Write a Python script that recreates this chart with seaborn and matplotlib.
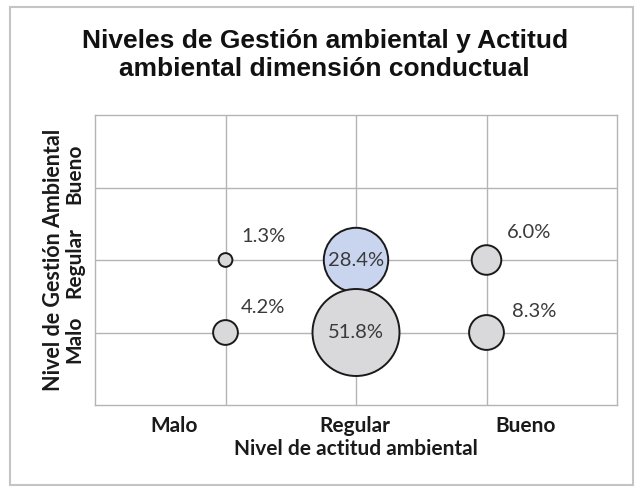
import matplotlib
matplotlib.use("Agg")
import matplotlib.pyplot as plt
import seaborn as sns
import pandas as pd
from matplotlib.patches import Rectangle

# ---- data ----
actitud = [1, 2, 3, 1, 2, 3]          # x: Nivel de actitud ambiental (1=Malo, 2=Regular, 3=Bueno)
gestion = [2, 2, 2, 1, 1, 1]          # y: Nivel de Gestión Ambiental
porcentaje = [1.3, 28.4, 6.0, 4.2, 51.8, 8.3]
etiquetas = ["1.3%", "28.4%", "6.0%", "4.2%", "51.8%", "8.3%"]
grupo = ["g", "b", "g", "g", "g", "g"]
x_tick_labels = ["Malo", "Regular", "Bueno"]
y_tick_labels = ["Malo", "Regular", "Bueno"]

df = pd.DataFrame({"x": actitud, "y": gestion, "pct": porcentaje,
                   "lab": etiquetas, "grupo": grupo})

# ---- layout constants ----
W, H = 638, 488
fig = plt.figure(figsize=(W / 100, H / 100), dpi=100)
sns.set_style("white")
ax = fig.add_axes([95 / W, 1 - 405 / H, (617 - 95) / W, (405 - 115) / H])

k = 75.7  # area per percent (pt^2)
sns.scatterplot(data=df, x="x", y="y", size="pct",
                sizes=(min(porcentaje) * k, max(porcentaje) * k),
                hue="grupo", palette={"g": "#d9d9dc", "b": "#c9d5ef"},
                edgecolor="#1a1a1a", linewidth=1.4, alpha=1,
                legend=False, ax=ax, zorder=3)

ax.set_xlim(0, 4)
ax.set_ylim(0, 4)
ax.set_xticks([1, 2, 3], minor=True)
ax.set_yticks([1, 2, 3], minor=True)
ax.grid(True, which="minor", color="#b4b4b4", linewidth=1.0, zorder=0)
ax.grid(False, which="major")
for s in ax.spines.values():
    s.set_color("#b4b4b4")
    s.set_linewidth(1.0)
ax.tick_params(which="both", length=0)

lab_font = dict(fontfamily="Lato", fontweight="bold", fontsize=15, color="#1a1a1a")

# category label positions (text boxes in the original)
ax.set_xticks([0.61, 1.99, 3.30])
ax.set_xticklabels(x_tick_labels, **lab_font)
ax.set_yticks([0.91, 1.96, 3.19])
ax.set_yticklabels(y_tick_labels, rotation=90, va="center", **lab_font)
ax.tick_params(axis="x", pad=8)
ax.tick_params(axis="y", pad=8)
ax.set_xlabel("Nivel de actitud ambiental", labelpad=2, **lab_font)
ax.set_ylabel("Nivel de Gestión Ambiental", labelpad=0,
              fontfamily="Lato", fontweight="bold", fontsize=15.5, color="#1a1a1a")

offsets = [(27, 17), (0, 0), (31, 20), (27, 18), (0, 0), (34, 15)]
for (_, r), off in zip(df.iterrows(), offsets):
    ax.annotate(r["lab"], (r["x"], r["y"]), xytext=off,
                textcoords="offset points", ha="center", va="center",
                fontfamily="Lato", fontsize=14.5, color="#3a3a3a", zorder=5)

fig.text(0.509, 1 - 55 / H,
         "Niveles de Gestión ambiental y Actitud\nambiental dimensión conductual",
         ha="center", va="center", fontfamily="Liberation Sans",
         fontweight="bold", fontsize=19, color="#111111", linespacing=1.22)

fig.patches.append(Rectangle((10 / W, 1 - 485 / H), (633 - 10) / W, (485 - 7) / H,
                             transform=fig.transFigure, fill=False,
                             edgecolor="#c4c4c4", linewidth=1.5))

fig.savefig("out.png", dpi=100)
